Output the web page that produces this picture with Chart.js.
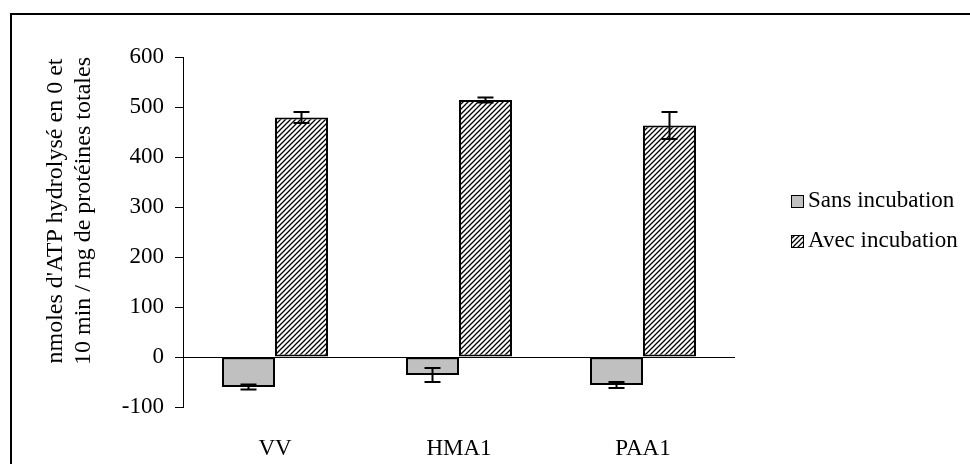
<!DOCTYPE html>
<html>
<head>
<meta charset="utf-8">
<script src="https://cdn.jsdelivr.net/npm/chart.js@4/dist/chart.umd.min.js"></script>
<style>
  html, body { margin: 0; padding: 0; background: #fff; }
  #wrap { position: relative; width: 970px; height: 464px; overflow: hidden; }
  #frame { position: absolute; left: 10px; top: 13px; width: 990px; height: 480px;
           border-top: 2px solid #000; border-left: 2px solid #000; }
  canvas { position: absolute; left: 0; top: 0; }
</style>
</head>
<body>
<div id="wrap">
  <div id="frame"></div>
  <canvas id="myChart" width="970" height="464"></canvas>
</div>
<script>
// donnees
var categories = ["VV", "HMA1", "PAA1"];
var sansIncubation = [-60, -36, -56];
var sansErreur = [5, 14, 6];
var avecIncubation = [479, 514, 463];
var avecErreur = [11, 5, 27];
var yTicks = [-100, 0, 100, 200, 300, 400, 500, 600];
var yTitle = ["nmoles d'ATP hydrolysé en 0 et", "10 min / mg de protéines totales"];

var serif = "Liberation Serif";

// motif hachure pour "Avec incubation"
function makeHatch(){
    var c = document.createElement("canvas");
    c.width = 5; c.height = 5;
    var g = c.getContext("2d");
    g.fillStyle = "#fff";
    g.fillRect(0, 0, 5, 5);
    g.strokeStyle = "#000";
    g.lineWidth = 1.3;
    g.beginPath();
    g.moveTo(-1, 6); g.lineTo(6, -1);
    g.moveTo(-1, 1); g.lineTo(1, -1);
    g.moveTo(4, 6); g.lineTo(6, 4);
    g.stroke();
    return g.createPattern(c, "repeat");
}
var hatch = makeHatch();

var errors = [sansErreur, avecErreur];

var extras = {
    id: "extras",
    beforeDatasetsDraw: function(chart){
        var ctx = chart.ctx, y = chart.scales.y, a = chart.chartArea;
        var y0 = Math.round(y.getPixelForValue(0)) + 0.5;
        ctx.save();
        ctx.strokeStyle = "#000";
        ctx.lineWidth = 1;
        ctx.beginPath();
        ctx.moveTo(a.left, y0); ctx.lineTo(a.right, y0);
        ctx.stroke();
        ctx.restore();
    },
    afterDatasetsDraw: function(chart){
        var ctx = chart.ctx, y = chart.scales.y;
        ctx.save();
        ctx.strokeStyle = "#000";
        ctx.lineWidth = 2;
        chart.data.datasets.forEach(function(ds, d){
            var meta = chart.getDatasetMeta(d);
            meta.data.forEach(function(el, i){
                var v = ds.data[i], e = errors[d][i];
                var yt = y.getPixelForValue(v + e), yb = y.getPixelForValue(v - e);
                ctx.beginPath();
                ctx.moveTo(el.x, yt); ctx.lineTo(el.x, yb);
                ctx.moveTo(el.x - 8, yt); ctx.lineTo(el.x + 8, yt);
                ctx.moveTo(el.x - 8, yb); ctx.lineTo(el.x + 8, yb);
                ctx.stroke();
            });
        });
        ctx.restore();
    },
    afterDraw: function(chart){
        var ctx = chart.ctx;
        ctx.save();
        // titre de l'axe
        ctx.fillStyle = "#000";
        ctx.font = "24px '" + serif + "'";
        ctx.textAlign = "center";
        ctx.textBaseline = "middle";
        ctx.translate(0, 211);
        ctx.rotate(-Math.PI / 2);
        ctx.fillText(yTitle[0], 0, 56);
        ctx.fillText(yTitle[1], 0, 84);
        ctx.restore();

        // legende
        ctx.save();
        ctx.font = "23px '" + serif + "'";
        ctx.textBaseline = "middle";
        var items = [["Sans incubation", "#c0c0c0", 201], ["Avec incubation", hatch, 241]];
        items.forEach(function(it){
            ctx.fillStyle = it[1];
            ctx.fillRect(791, it[2] - 6, 13, 13);
            ctx.strokeStyle = "#000";
            ctx.lineWidth = 1;
            ctx.strokeRect(791.5, it[2] - 5.5, 12, 12);
            ctx.fillStyle = "#000";
            ctx.fillText(it[0], 808, it[2]);
        });
        ctx.restore();
    }
};

var ctx = document.getElementById("myChart");
var myChart = new Chart(ctx, {
    type: "bar",
    data: {
        labels: categories,
        datasets: [
            {
                label: "Sans incubation",
                data: sansIncubation,
                backgroundColor: "#c0c0c0",
                borderColor: "#000",
                borderWidth: 2,
                borderSkipped: false
            },
            {
                label: "Avec incubation",
                data: avecIncubation,
                backgroundColor: hatch,
                borderColor: "#000",
                borderWidth: 2,
                borderSkipped: false
            }
        ]
    },
    options: {
        responsive: false,
        animation: false,
        events: [],
        layout: { padding: { left: 100, right: 235, top: 57, bottom: 0 } },
        datasets: { bar: { categoryPercentage: 0.576, barPercentage: 1.0 } },
        plugins: { legend: { display: false }, tooltip: { enabled: false } },
        scales: {
            x: {
                grid: { display: false },
                border: { display: false },
                ticks: { color: "#000", font: { family: serif, size: 23 }, padding: 20 },
                afterFit: function(s){ s.height = 57; }
            },
            y: {
                min: -100,
                max: 600,
                afterBuildTicks: function(s){ s.ticks = yTicks.map(function(v){ return { value: v }; }); },
                grid: { drawOnChartArea: false, drawTicks: true, tickLength: 8, color: "#000", lineWidth: 1 },
                border: { display: true, color: "#000", width: 1 },
                ticks: { color: "#000", font: { family: serif, size: 23 }, padding: 11 },
                afterFit: function(s){ s.width = 83; }
            }
        }
    },
    plugins: [extras]
});
</script>
</body>
</html>
